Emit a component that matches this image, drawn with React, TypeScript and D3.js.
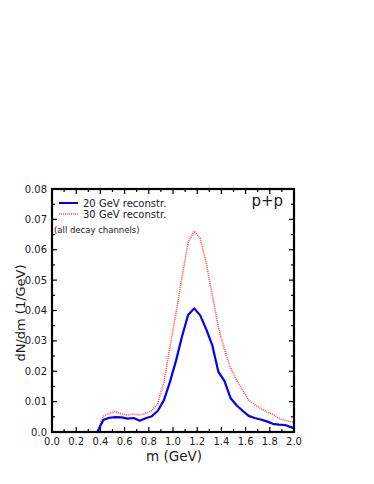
import React, { useRef, useEffect } from 'react';
import * as d3 from 'd3';

// bin centres in GeV (plus the edges of the range)
const mass = [
  0.0, 0.025, 0.075, 0.125, 0.175, 0.225, 0.275, 0.325, 0.375, 0.425, 0.475,
  0.525, 0.575, 0.625, 0.675, 0.725, 0.775, 0.825, 0.875, 0.925, 0.975,
  1.025, 1.075, 1.125, 1.175, 1.225, 1.275, 1.325, 1.375, 1.425, 1.475,
  1.525, 1.575, 1.625, 1.675, 1.725, 1.775, 1.825, 1.875, 1.925, 1.975, 2.0,
];

const gev20 = [
  0, 0, 0, 0, 0, 0, 0, 0, 0, 0.0040, 0.0047,
  0.0049, 0.0048, 0.0044, 0.0046, 0.0037, 0.0045, 0.0052, 0.0070, 0.0105, 0.0165,
  0.0235, 0.0315, 0.0385, 0.0407, 0.0384, 0.0338, 0.0285, 0.0198, 0.0168, 0.0112,
  0.0088, 0.0070, 0.0053, 0.0046, 0.0041, 0.0035, 0.0027, 0.0024, 0.0023, 0.0016, 0.0012,
];

const gev30 = [
  0, 0, 0, 0, 0, 0, 0, 0, 0, 0.0052, 0.0062,
  0.0067, 0.0059, 0.0056, 0.0059, 0.0056, 0.0061, 0.0070, 0.0095, 0.0165, 0.0280,
  0.0392, 0.0510, 0.0625, 0.0661, 0.0637, 0.0555, 0.0450, 0.0345, 0.0272, 0.0212,
  0.0172, 0.0138, 0.0105, 0.0090, 0.0077, 0.0066, 0.0058, 0.0045, 0.0038, 0.0034, 0.0032,
];

const xTicks = [0, 0.2, 0.4, 0.6, 0.8, 1.0, 1.2, 1.4, 1.6, 1.8, 2.0];
const yTicks = [0, 0.01, 0.02, 0.03, 0.04, 0.05, 0.06, 0.07, 0.08];

const App = () => {
  const svgRef = useRef<SVGSVGElement>(null);

  useEffect(() => {
    const svg = d3.select(svgRef.current);
    svg.selectAll('*').remove();

    const width = 374;
    const height = 484;
    const left = 52;
    const right = 294;
    const top = 189;
    const bottom = 432;
    const font = '"DejaVu Sans", Verdana, sans-serif';
    const ink = '#1a1a1a';

    const x = d3.scaleLinear().domain([0, 2]).range([left, right]);
    const y = d3.scaleLinear().domain([0, 0.08]).range([bottom, top]);

    svg.attr('width', width).attr('height', height)
      .attr('viewBox', [0, 0, width, height])
      .style('font-family', font);

    svg.append('clipPath').attr('id', 'plot')
      .append('rect')
      .attr('x', left).attr('y', top)
      .attr('width', right - left).attr('height', bottom - top);

    // Curves
    const line = d3.line<number>()
      .x((_, i) => x(mass[i]))
      .y(d => y(d));

    svg.append('path')
      .attr('d', line(gev30))
      .attr('fill', 'none')
      .attr('stroke', '#ff5050')
      .attr('stroke-width', 1.7)
      .attr('stroke-dasharray', '1,1')
      .attr('clip-path', 'url(#plot)');

    svg.append('path')
      .attr('d', line(gev20))
      .attr('fill', 'none')
      .attr('stroke', '#0000ff')
      .attr('stroke-width', 2.2)
      .attr('stroke-linejoin', 'round')
      .attr('clip-path', 'url(#plot)');

    // Axes (ticks inward on all sides)
    const xMinor = d3.range(0, 2.0001, 0.1);
    const yMinor = d3.range(0, 0.08001, 0.005);
    const frame = svg.append('g').attr('stroke', '#000');

    frame.selectAll('.xt').data(xMinor).join('line')
      .attr('x1', d => x(d)).attr('x2', d => x(d))
      .attr('y1', bottom).attr('y2', (d, i) => bottom - (i % 2 === 0 ? 5 : 3))
      .attr('stroke-width', 1.2);
    frame.selectAll('.xtt').data(xMinor).join('line')
      .attr('x1', d => x(d)).attr('x2', d => x(d))
      .attr('y1', top).attr('y2', (d, i) => top + (i % 2 === 0 ? 5 : 3))
      .attr('stroke-width', 1.2);
    frame.selectAll('.yt').data(yMinor).join('line')
      .attr('y1', d => y(d)).attr('y2', d => y(d))
      .attr('x1', left).attr('x2', (d, i) => left + (i % 2 === 0 ? 5 : 3))
      .attr('stroke-width', 1.2);
    frame.selectAll('.ytr').data(yMinor).join('line')
      .attr('y1', d => y(d)).attr('y2', d => y(d))
      .attr('x1', right).attr('x2', (d, i) => right - (i % 2 === 0 ? 5 : 3))
      .attr('stroke-width', 1.2);

    svg.append('rect')
      .attr('x', left).attr('y', top)
      .attr('width', right - left).attr('height', bottom - top)
      .attr('fill', 'none').attr('stroke', '#000').attr('stroke-width', 2.2);

    svg.append('g').selectAll('text').data(xTicks).join('text')
      .attr('x', d => x(d)).attr('y', bottom + 13)
      .attr('text-anchor', 'middle')
      .attr('font-size', 10).attr('fill', ink)
      .text(d => d3.format('.1f')(d));

    svg.append('g').selectAll('text').data(yTicks).join('text')
      .attr('x', left - 5).attr('y', d => y(d)).attr('dy', '0.35em')
      .attr('text-anchor', 'end')
      .attr('font-size', 10).attr('fill', ink)
      .text(d => (d === 0 ? '0.0' : d3.format('.2f')(d)));

    svg.append('text')
      .attr('x', 174).attr('y', 461)
      .attr('text-anchor', 'middle').attr('font-size', 13.5).attr('fill', ink)
      .text('m (GeV)');

    svg.append('text')
      .attr('transform', 'translate(25,313) rotate(-90)')
      .attr('text-anchor', 'middle').attr('font-size', 13).attr('fill', ink)
      .text('dN/dm (1/GeV)');

    // Legend
    const lg = svg.append('g');
    lg.append('line')
      .attr('x1', 59).attr('x2', 78).attr('y1', 203).attr('y2', 203)
      .attr('stroke', '#0000ff').attr('stroke-width', 2);
    lg.append('line')
      .attr('x1', 59).attr('x2', 78).attr('y1', 214).attr('y2', 214)
      .attr('stroke', '#ff5050').attr('stroke-width', 1.7).attr('stroke-dasharray', '1,1');
    lg.append('text').attr('x', 83).attr('y', 203).attr('dy', '0.35em')
      .attr('font-size', 10).attr('fill', ink).text('20 GeV reconstr.');
    lg.append('text').attr('x', 83).attr('y', 214).attr('dy', '0.35em')
      .attr('font-size', 10).attr('fill', ink).text('30 GeV reconstr.');
    lg.append('text').attr('x', 54).attr('y', 230).attr('dy', '0.35em')
      .attr('font-size', 8.5).attr('fill', ink).text('(all decay channels)');

    svg.append('text')
      .attr('x', 283).attr('y', 206)
      .attr('text-anchor', 'end').attr('font-size', 15).attr('fill', ink)
      .text('p+p');
  }, []);

  return <svg ref={svgRef} style={{ position: 'absolute', left: 0, top: 0 }}></svg>;
};

export default App;
